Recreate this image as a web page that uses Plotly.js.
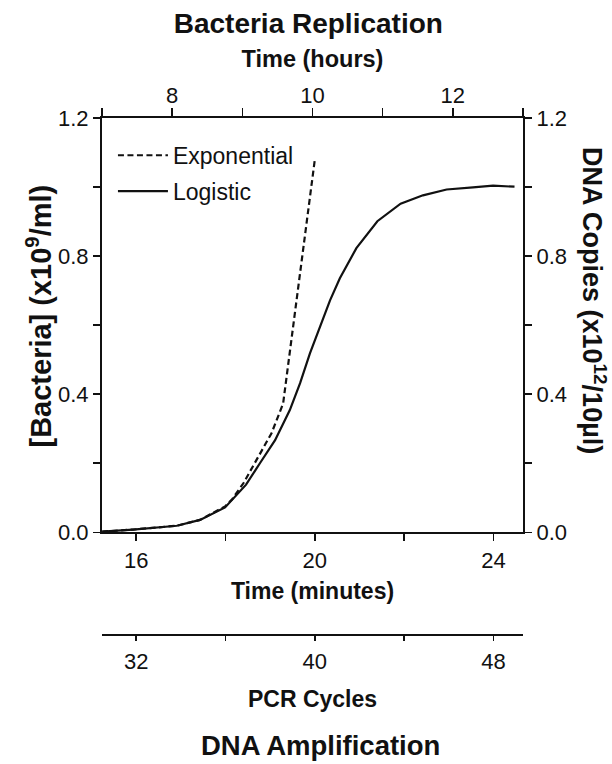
<!DOCTYPE html>
<html>
<head>
<meta charset="utf-8">
<script src="https://cdn.plot.ly/plotly-3.0.1.min.js"></script>
<style>html,body{margin:0;padding:0;background:#fff;}#chart{width:612px;height:764px;}</style>
</head>
<body>
<div id="chart"></div>
<script>
// Time (minutes) and values
const minutesLogistic = [15.24, 15.93, 16.91, 17.43, 17.99, 18.46, 18.77, 19.11, 19.44, 19.67, 19.89, 20.11, 20.34, 20.56, 20.93, 21.40, 21.92, 22.42, 22.95, 23.54, 23.99, 24.47];
const logistic = [0.002, 0.008, 0.019, 0.036, 0.072, 0.138, 0.200, 0.267, 0.354, 0.432, 0.518, 0.591, 0.672, 0.736, 0.823, 0.901, 0.952, 0.976, 0.993, 0.999, 1.004, 1.001];
const minutesExponential = [15.24, 15.93, 16.91, 17.43, 17.99, 18.15, 18.40, 18.77, 19.03, 19.29, 19.44, 19.67, 19.89, 20.00];
const exponential = [0.002, 0.008, 0.019, 0.036, 0.075, 0.096, 0.142, 0.229, 0.287, 0.373, 0.520, 0.750, 0.970, 1.080];

// Axis ticks (labelled and unlabelled)
const minuteTicks = [16, 20, 24];
const minuteMinor = [18, 22];
const hourTicks = [8, 10, 12];
const hourMinor = [7, 9, 11, 13];
const cycleTicks = [32, 40, 48];
const cycleMinor = [36, 44];
const yTicks = [0, 0.4, 0.8, 1.2];
const yLabels = ['0.0', '0.4', '0.8', '1.2'];
const yMinor = [0.2, 0.6, 1.0];

const FONT = 'Liberation Sans, Arial, Helvetica, sans-serif';
const INK = '#111';

const traces = [
  {x: minutesExponential, y: exponential, name: 'Exponential', mode: 'lines', type: 'scatter',
   line: {color: INK, width: 2.2, dash: '6px,3.5px'}, legendgroup: 'a', xaxis: 'x', yaxis: 'y'},
  {x: minutesLogistic, y: logistic, name: 'Logistic', mode: 'lines', type: 'scatter',
   line: {color: INK, width: 2.2}, legendgroup: 'b', xaxis: 'x', yaxis: 'y'},
  // empty traces so the secondary axes are drawn
  {x: [], y: [], xaxis: 'x2', yaxis: 'y', showlegend: false, hoverinfo: 'skip', type: 'scatter'},
  {x: [], y: [], xaxis: 'x3', yaxis: 'y', showlegend: false, hoverinfo: 'skip', type: 'scatter'},
  {x: [], y: [], xaxis: 'x', yaxis: 'y2', showlegend: false, hoverinfo: 'skip', type: 'scatter'}
];

function axisBase(minorVals, len) {
  return {
    showline: true, linewidth: 2, linecolor: INK,
    ticks: 'outside', ticklen: len, tickwidth: 1.6, tickcolor: INK,
    minor: {tickvals: minorVals, ticks: 'outside', ticklen: len, tickwidth: 1.6, tickcolor: INK, showgrid: false},
    showgrid: false, zeroline: false,
    tickfont: {family: FONT, size: 22, color: INK},
    fixedrange: true
  };
}

const layout = {
  width: 612, height: 764,
  margin: {l: 102, r: 89, t: 118, b: 124, pad: 0},
  paper_bgcolor: '#fff', plot_bgcolor: '#fff',
  font: {family: FONT, color: INK},
  title: {text: 'Bacteria Replication', x: 0.49, xref: 'paper', y: 0.969, yref: 'container', yanchor: 'middle',
          font: {family: FONT, size: 28, weight: 'bold', color: INK}},
  showlegend: true,
  legend: {x: 0.026, y: 0.9697, xanchor: 'left', yanchor: 'top', bgcolor: 'rgba(0,0,0,0)',
           font: {family: FONT, size: 23, color: INK}, tracegroupgap: 3, traceorder: 'grouped', itemwidth: 50},
  xaxis: Object.assign(axisBase(minuteMinor, 7), {
    range: [15.235, 24.66], tickvals: minuteTicks, anchor: 'y',
    title: {text: 'Time (minutes)', font: {family: FONT, size: 23, weight: 'bold', color: INK}, standoff: 11}
  }),
  xaxis2: Object.assign(axisBase(hourMinor, 8), {
    range: [7, 13], tickvals: hourTicks, overlaying: 'x', side: 'top', anchor: 'y', ticklabelstandoff: -4,
    title: {text: 'Time (hours)', font: {family: FONT, size: 23.5, weight: 'bold', color: INK}, standoff: 9}
  }),
  xaxis3: Object.assign(axisBase(cycleMinor, 5), {
    range: [30.47, 49.32], tickvals: cycleTicks, overlaying: 'x', anchor: 'free',
    position: 0.0096, side: 'bottom', ticklabelstandoff: 2,
    title: {text: 'PCR Cycles', font: {family: FONT, size: 23, weight: 'bold', color: INK}, standoff: 17}
  }),
  yaxis: Object.assign(axisBase(yMinor, 7), {
    domain: [0.2063, 1], range: [0, 1.2], tickvals: yTicks, ticktext: yLabels, anchor: 'x', side: 'left'
  }),
  yaxis2: Object.assign(axisBase(yMinor, 7), {
    range: [0, 1.2], tickvals: yTicks, ticktext: yLabels, overlaying: 'y', side: 'right', anchor: 'x'
  }),
  annotations: [
    {text: '[Bacteria] (x10<sup>9</sup>/ml)', xref: 'paper', yref: 'paper', x: -0.1508, y: 0.6207,
     xanchor: 'center', yanchor: 'middle', textangle: -90, showarrow: false,
     font: {family: FONT, size: 29, weight: 'bold', color: INK}},
    {text: 'DNA Copies (x10<sup>12</sup>/10µl)', xref: 'paper', yref: 'paper', x: 1.1686, y: 0.6494,
     xanchor: 'center', yanchor: 'middle', textangle: 90, showarrow: false,
     font: {family: FONT, size: 27, weight: 'bold', color: INK}},
    {text: 'DNA Amplification', xref: 'paper', yref: 'paper', x: 0.52, y: -0.2012,
     xanchor: 'center', yanchor: 'middle', showarrow: false,
     font: {family: FONT, size: 27.5, weight: 'bold', color: INK}}
  ]
};

Plotly.newPlot('chart', traces, layout, {displayModeBar: false, staticPlot: true});
</script>
</body>
</html>
